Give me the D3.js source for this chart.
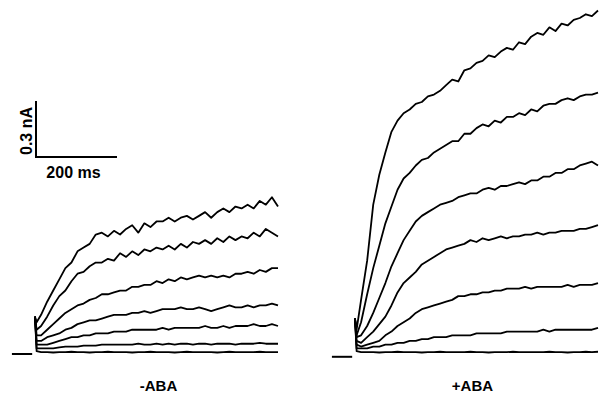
<!DOCTYPE html>
<html>
<head>
<meta charset="utf-8">
<script src="https://cdn.jsdelivr.net/npm/d3@7"></script>
<style>
  html, body { margin: 0; padding: 0; background: #fff; }
  text { font-family: "Liberation Sans", Arial, sans-serif; font-weight: bold; fill: #000; }
</style>
</head>
<body>
<div id="chart"></div>
<script>
// Sampling times of the voltage step (ms)
const timeMs = [0, 4, 15, 30, 45, 60, 75, 90, 105, 120, 135, 150, 165, 180, 195, 210, 225, 240, 255, 270, 285, 300,
                315, 330, 345, 360, 375, 390, 405, 420, 435, 450, 465, 480, 495, 510, 525, 540, 555, 570, 585, 600];

// Holding segment shown before each family of traces (ms)
const holdMs = [-57, -7];

// Panel labels
const panelLabels = ["-ABA", "+ABA"];

// Currents (nA) for the -ABA cell, one array per voltage step
const minusAbaTraces = [
  [0.20, 0.17, 0.21, 0.28, 0.34, 0.40, 0.46, 0.49, 0.55, 0.57, 0.59, 0.64, 0.65, 0.63, 0.66, 0.64, 0.67, 0.69, 0.65, 0.70, 0.68, 0.71,
   0.71, 0.73, 0.71, 0.73, 0.74, 0.72, 0.74, 0.76, 0.73, 0.76, 0.78, 0.76, 0.79, 0.78, 0.80, 0.78, 0.82, 0.80, 0.84, 0.79],
  [0.20, 0.13, 0.15, 0.20, 0.26, 0.31, 0.34, 0.39, 0.43, 0.44, 0.47, 0.49, 0.49, 0.51, 0.50, 0.54, 0.52, 0.55, 0.53, 0.56, 0.55, 0.57,
   0.56, 0.58, 0.56, 0.59, 0.57, 0.60, 0.59, 0.61, 0.59, 0.62, 0.60, 0.63, 0.61, 0.63, 0.62, 0.65, 0.63, 0.67, 0.65, 0.63],
  [0.20, 0.10, 0.10, 0.13, 0.16, 0.19, 0.22, 0.24, 0.26, 0.27, 0.29, 0.30, 0.32, 0.32, 0.33, 0.34, 0.34, 0.36, 0.36, 0.37, 0.37, 0.39,
   0.38, 0.40, 0.39, 0.41, 0.40, 0.41, 0.42, 0.41, 0.42, 0.41, 0.42, 0.41, 0.43, 0.43, 0.44, 0.43, 0.45, 0.44, 0.46, 0.46],
  [0.20, 0.07, 0.07, 0.09, 0.10, 0.11, 0.13, 0.14, 0.16, 0.17, 0.18, 0.18, 0.19, 0.20, 0.21, 0.21, 0.21, 0.22, 0.22, 0.23, 0.22, 0.23,
   0.24, 0.24, 0.24, 0.25, 0.24, 0.24, 0.25, 0.24, 0.23, 0.24, 0.25, 0.26, 0.25, 0.25, 0.26, 0.25, 0.26, 0.26, 0.27, 0.26],
  [0.20, 0.05, 0.05, 0.05, 0.06, 0.07, 0.08, 0.09, 0.09, 0.10, 0.10, 0.11, 0.11, 0.11, 0.12, 0.12, 0.12, 0.13, 0.13, 0.13, 0.13, 0.13,
   0.14, 0.13, 0.14, 0.14, 0.14, 0.14, 0.14, 0.15, 0.14, 0.14, 0.15, 0.14, 0.15, 0.15, 0.15, 0.16, 0.15, 0.15, 0.16, 0.15],
  [0.20, 0.03, 0.03, 0.03, 0.03, 0.035, 0.04, 0.04, 0.04, 0.045, 0.045, 0.045, 0.05, 0.05, 0.05, 0.05, 0.05, 0.05, 0.055, 0.05, 0.05, 0.055,
   0.05, 0.055, 0.05, 0.055, 0.055, 0.05, 0.055, 0.055, 0.05, 0.055, 0.055, 0.055, 0.05, 0.055, 0.055, 0.055, 0.06, 0.055, 0.055, 0.055],
  [0.20, 0.015, 0.01, 0.01, 0.008, 0.01, 0.01, 0.012, 0.01, 0.01, 0.008, 0.01, 0.01, 0.012, 0.01, 0.01, 0.01, 0.008, 0.01, 0.01, 0.012, 0.01,
   0.01, 0.01, 0.008, 0.01, 0.012, 0.01, 0.01, 0.01, 0.01, 0.008, 0.01, 0.012, 0.01, 0.01, 0.01, 0.01, 0.012, 0.01, 0.01, 0.01]
];

// Currents (nA) for the +ABA cell
const plusAbaTraces = [
  [0.19, 0.13, 0.29, 0.50, 0.80, 0.96, 1.08, 1.19, 1.25, 1.29, 1.31, 1.34, 1.35, 1.38, 1.39, 1.41, 1.44, 1.47, 1.46, 1.52, 1.53, 1.56,
   1.57, 1.60, 1.59, 1.62, 1.64, 1.63, 1.67, 1.66, 1.70, 1.72, 1.71, 1.75, 1.73, 1.77, 1.76, 1.79, 1.80, 1.82, 1.81, 1.84],
  [0.19, 0.10, 0.17, 0.32, 0.46, 0.58, 0.70, 0.79, 0.88, 0.94, 0.97, 1.01, 1.04, 1.05, 1.08, 1.10, 1.12, 1.14, 1.14, 1.18, 1.18, 1.21,
   1.23, 1.22, 1.25, 1.24, 1.27, 1.27, 1.29, 1.28, 1.31, 1.30, 1.33, 1.34, 1.34, 1.36, 1.37, 1.36, 1.38, 1.39, 1.39, 1.40],
  [0.19, 0.09, 0.10, 0.15, 0.22, 0.30, 0.38, 0.47, 0.54, 0.61, 0.66, 0.71, 0.74, 0.76, 0.78, 0.80, 0.81, 0.82, 0.84, 0.85, 0.86, 0.86,
   0.88, 0.89, 0.88, 0.90, 0.90, 0.91, 0.92, 0.91, 0.93, 0.93, 0.95, 0.95, 0.97, 0.97, 0.99, 0.99, 1.01, 1.02, 1.03, 1.01],
  [0.19, 0.07, 0.06, 0.09, 0.12, 0.16, 0.20, 0.26, 0.33, 0.38, 0.41, 0.44, 0.48, 0.50, 0.52, 0.54, 0.56, 0.57, 0.58, 0.59, 0.61, 0.60,
   0.62, 0.61, 0.62, 0.63, 0.62, 0.63, 0.63, 0.64, 0.64, 0.65, 0.64, 0.65, 0.65, 0.66, 0.66, 0.66, 0.67, 0.67, 0.68, 0.69],
  [0.19, 0.05, 0.04, 0.05, 0.06, 0.07, 0.10, 0.12, 0.15, 0.17, 0.19, 0.22, 0.24, 0.25, 0.26, 0.27, 0.28, 0.29, 0.31, 0.31, 0.32, 0.32,
   0.33, 0.33, 0.34, 0.34, 0.35, 0.35, 0.35, 0.36, 0.35, 0.36, 0.36, 0.36, 0.36, 0.36, 0.37, 0.36, 0.37, 0.37, 0.37, 0.38],
  [0.19, 0.03, 0.03, 0.03, 0.04, 0.04, 0.05, 0.05, 0.06, 0.06, 0.07, 0.07, 0.08, 0.08, 0.09, 0.09, 0.09, 0.10, 0.10, 0.10, 0.10, 0.11,
   0.11, 0.11, 0.11, 0.11, 0.12, 0.12, 0.12, 0.12, 0.12, 0.12, 0.13, 0.12, 0.13, 0.13, 0.13, 0.13, 0.13, 0.13, 0.13, 0.14],
  [0.19, 0.015, 0.01, 0.01, 0.01, 0.008, 0.01, 0.01, 0.012, 0.01, 0.01, 0.01, 0.008, 0.01, 0.01, 0.012, 0.01, 0.01, 0.01, 0.01, 0.012, 0.01,
   0.01, 0.008, 0.01, 0.01, 0.01, 0.012, 0.01, 0.01, 0.01, 0.01, 0.01, 0.012, 0.01, 0.01, 0.008, 0.01, 0.01, 0.012, 0.01, 0.012]
];

// Holding current (nA) before the step, per panel
const holdCurrent = [0, -0.015];

// Scale bar sizes
const scaleBarCurrent = 0.3;   // nA
const scaleBarTime = 200;      // ms

const width = 605, height = 397;

const svg = d3.select("#chart")
  .append("svg")
  .attr("width", width)
  .attr("height", height);

// Shared current scale (both cells drawn at the same gain)
const y = d3.scaleLinear().domain([0, 0.3]).range([354, 298]);

// One time scale per panel, same ms-per-pixel
const xScales = [
  d3.scaleLinear().domain([0, 600]).range([35, 278]),
  d3.scaleLinear().domain([0, 600]).range([355, 598])
];

// label centre, in ms of each panel's own time axis
const labelMs = [305, 290];

const panels = [minusAbaTraces, plusAbaTraces];

panels.forEach((traces, p) => {
  const x = xScales[p];
  const g = svg.append("g");

  const line = d3.line()
    .x((d, i) => x(timeMs[i]))
    .y(d => y(d));

  g.selectAll("path.trace")
    .data(traces)
    .join("path")
    .attr("class", "trace")
    .attr("d", line)
    .attr("fill", "none")
    .attr("stroke", "#000")
    .attr("stroke-width", 1.8)
    .attr("stroke-linejoin", "round");

  // short holding-current segment
  g.append("line")
    .attr("x1", x(holdMs[0]))
    .attr("x2", x(holdMs[1]))
    .attr("y1", y(holdCurrent[p]))
    .attr("y2", y(holdCurrent[p]))
    .attr("stroke", "#000")
    .attr("stroke-width", 2);

  g.append("text")
    .attr("x", x(labelMs[p]))
    .attr("y", 391)
    .attr("text-anchor", "middle")
    .attr("font-size", 15)
    .text(panelLabels[p]);
});

// Scale bar
const barX = 36, barY = 157;
const barH = y(0) - y(scaleBarCurrent);
const barW = xScales[0](scaleBarTime) - xScales[0](0);

svg.append("path")
  .attr("d", `M${barX},${barY - barH}V${barY}H${barX + barW}`)
  .attr("fill", "none")
  .attr("stroke", "#000")
  .attr("stroke-width", 2);

svg.append("text")
  .attr("transform", `translate(${barX - 4},${barY - barH / 2 + 2}) rotate(-90)`)
  .attr("text-anchor", "middle")
  .attr("font-size", 16)
  .text("0.3 nA");

svg.append("text")
  .attr("x", barX + barW / 2 - 3)
  .attr("y", barY + 21)
  .attr("text-anchor", "middle")
  .attr("font-size", 16)
  .text("200 ms");
</script>
</body>
</html>
